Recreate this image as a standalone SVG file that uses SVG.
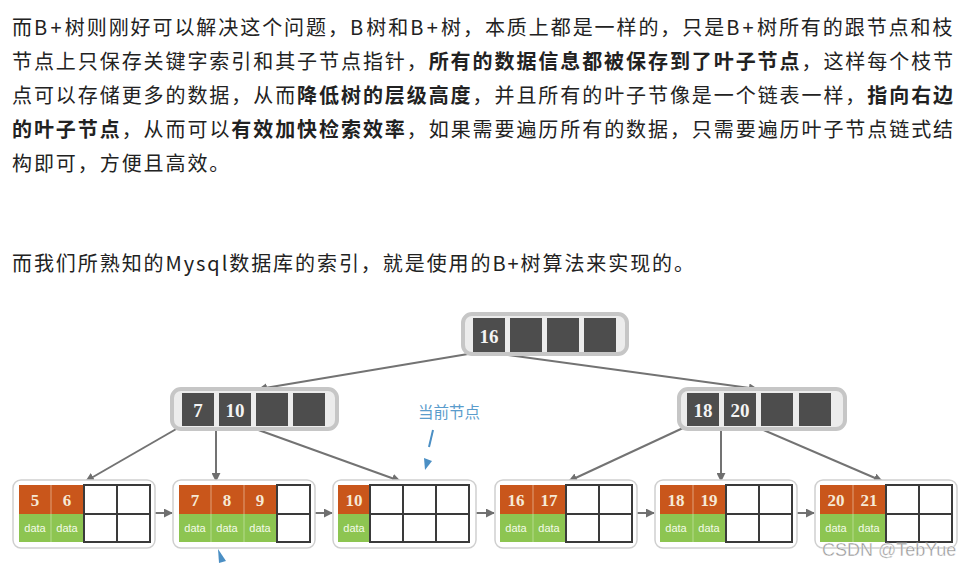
<svg xmlns="http://www.w3.org/2000/svg" width="973" height="567" viewBox="0 0 973 567">
<defs>
<marker id="ah" viewBox="0 0 10 10" refX="9" refY="5" markerWidth="9" markerHeight="9" markerUnits="userSpaceOnUse" orient="auto">
<path d="M0,0 L10,5 L0,10 Z" fill="#6f6f6f"/>
</marker>
<style>
.p{font-family:"Noto Sans CJK SC","Noto Sans",sans-serif;font-size:20px;fill:#222;letter-spacing:1.93px}
.b{font-weight:bold}
.l{letter-spacing:3.3px}
.inner{fill:#ececec;stroke:#c6c6c6;stroke-width:4}
.dk{fill:#4d4d4d}
.kn{font-family:"Liberation Serif","DejaVu Serif",serif;font-weight:bold;font-size:19px;fill:#f4f4f4;text-anchor:middle}
.leaf{fill:#fff;stroke:#cfcfcf;stroke-width:1.5}
.or{fill:#c9561b}
.gr{fill:#8dc551}
.sep{stroke:#e0a07a;stroke-width:1}
.sepg{stroke:#b5db8e;stroke-width:1}
.wc{fill:#fff;stroke:#3a3a3a;stroke-width:2}
.lk{font-family:"Liberation Serif","DejaVu Serif",serif;font-weight:bold;font-size:17px;fill:#f6e9d6;text-anchor:middle}
.dt{font-family:"Liberation Sans Narrow","Liberation Sans",sans-serif;font-size:11px;fill:#f4fbe9;text-anchor:middle}
.cn{stroke:#737373;stroke-width:2;fill:none;marker-end:url(#ah)}
.blue{fill:#4b8fc4}
</style>
</defs>
<rect width="973" height="567" fill="#fff"/>

<g id="paragraph">
<text class="p" x="12" y="35">而<tspan class="l">B+</tspan>树则刚好可以解决这个问题，<tspan class="l">B</tspan>树和<tspan class="l">B+</tspan>树，本质上都是一样的，只是<tspan class="l">B+</tspan>树所有的跟节点和枝</text>
<text class="p" x="12" y="69">节点上只保存关键字索引和其子节点指针，<tspan class="b">所有的数据信息都被保存到了叶子节点</tspan>，这样每个枝节</text>
<text class="p" x="12" y="103">点可以存储更多的数据，从而<tspan class="b">降低树的层级高度</tspan>，并且所有的叶子节像是一个链表一样，<tspan class="b">指向右边</tspan></text>
<text class="p" x="12" y="137"><tspan class="b">的叶子节点</tspan>，从而可以<tspan class="b">有效加快检索效率</tspan>，如果需要遍历所有的数据，只需要遍历叶子节点链式结</text>
<text class="p" x="12" y="171">构即可，方便且高效。</text>
<text class="p" x="12" y="271">而我们所熟知的Mysql数据库的索引，就是使用的B+树算法来实现的。</text>
</g>

<g id="connectors">
<line class="cn" x1="468" y1="354" x2="259" y2="389"/>
<line class="cn" x1="508" y1="355" x2="757" y2="389"/>
<line class="cn" x1="178" y1="428" x2="86" y2="481"/>
<line class="cn" x1="216" y1="428" x2="216" y2="481"/>
<line class="cn" x1="253" y1="428" x2="400" y2="481"/>
<line class="cn" x1="683" y1="428" x2="569" y2="481"/>
<line class="cn" x1="721" y1="428" x2="721" y2="481"/>
<line class="cn" x1="759" y1="428" x2="882" y2="481"/>
<line class="cn" x1="155" y1="513" x2="172" y2="513"/>
<line class="cn" x1="315" y1="513" x2="332" y2="513"/>
<line class="cn" x1="476" y1="513" x2="494" y2="513"/>
<line class="cn" x1="637" y1="513" x2="654" y2="513"/>
<line class="cn" x1="797" y1="513" x2="814" y2="513"/>
</g>

<g id="root">
<rect class="inner" x="463" y="314" width="164" height="40" rx="9"/>
<rect class="dk" x="473" y="318" width="32" height="34"/>
<rect class="dk" x="510" y="318" width="32" height="34"/>
<rect class="dk" x="547" y="318" width="32" height="34"/>
<rect class="dk" x="584" y="318" width="32" height="34"/>
<text class="kn" x="489" y="343">16</text>
</g>

<g id="branch-left">
<rect class="inner" x="172" y="389" width="165" height="40" rx="9"/>
<rect class="dk" x="182" y="393" width="32" height="33"/>
<rect class="dk" x="219" y="393" width="32" height="33"/>
<rect class="dk" x="256" y="393" width="32" height="33"/>
<rect class="dk" x="293" y="393" width="32" height="33"/>
<text class="kn" x="198" y="417">7</text>
<text class="kn" x="235" y="417">10</text>
</g>

<g id="branch-right">
<rect class="inner" x="679" y="389" width="166" height="40" rx="9"/>
<rect class="dk" x="687" y="393" width="32" height="33"/>
<rect class="dk" x="724" y="393" width="32" height="33"/>
<rect class="dk" x="761" y="393" width="32" height="33"/>
<rect class="dk" x="799" y="393" width="32" height="33"/>
<text class="kn" x="703" y="417">18</text>
<text class="kn" x="740" y="417">20</text>
</g>

<g id="leaf-1">
<rect class="leaf" x="13" y="480" width="142" height="68" rx="8"/>
<rect class="or" x="19" y="485" width="65" height="29"/>
<rect class="gr" x="19" y="514" width="65" height="28"/>
<line class="sep" x1="51" y1="485" x2="51" y2="514"/><line class="sepg" x1="51" y1="514" x2="51" y2="542"/>
<rect class="wc" x="84" y="485" width="33" height="29"/><rect class="wc" x="117" y="485" width="33" height="29"/>
<rect class="wc" x="84" y="514" width="33" height="28"/><rect class="wc" x="117" y="514" width="33" height="28"/>
<text class="lk" x="35" y="506">5</text><text class="lk" x="67" y="506">6</text>
<text class="dt" x="35" y="532">data</text><text class="dt" x="67" y="532">data</text>
</g>

<g id="leaf-2">
<rect class="leaf" x="173" y="480" width="142" height="68" rx="8"/>
<rect class="or" x="179" y="485" width="98" height="29"/>
<rect class="gr" x="179" y="514" width="98" height="28"/>
<line class="sep" x1="211" y1="485" x2="211" y2="514"/><line class="sep" x1="244" y1="485" x2="244" y2="514"/>
<line class="sepg" x1="211" y1="514" x2="211" y2="542"/><line class="sepg" x1="244" y1="514" x2="244" y2="542"/>
<rect class="wc" x="277" y="485" width="33" height="29"/>
<rect class="wc" x="277" y="514" width="33" height="28"/>
<text class="lk" x="195" y="506">7</text><text class="lk" x="227" y="506">8</text><text class="lk" x="260" y="506">9</text>
<text class="dt" x="195" y="532">data</text><text class="dt" x="227" y="532">data</text><text class="dt" x="260" y="532">data</text>
</g>

<g id="leaf-3">
<rect class="leaf" x="333" y="480" width="143" height="68" rx="8"/>
<rect class="or" x="338" y="485" width="32" height="29"/>
<rect class="gr" x="338" y="514" width="32" height="28"/>
<rect class="wc" x="370" y="485" width="33" height="29"/><rect class="wc" x="403" y="485" width="33" height="29"/><rect class="wc" x="436" y="485" width="33" height="29"/>
<rect class="wc" x="370" y="514" width="33" height="28"/><rect class="wc" x="403" y="514" width="33" height="28"/><rect class="wc" x="436" y="514" width="33" height="28"/>
<text class="lk" x="354" y="506">10</text>
<text class="dt" x="354" y="532">data</text>
</g>

<g id="leaf-4">
<rect class="leaf" x="495" y="480" width="142" height="68" rx="8"/>
<rect class="or" x="500" y="485" width="66" height="29"/>
<rect class="gr" x="500" y="514" width="66" height="28"/>
<line class="sep" x1="533" y1="485" x2="533" y2="514"/><line class="sepg" x1="533" y1="514" x2="533" y2="542"/>
<rect class="wc" x="566" y="485" width="33" height="29"/><rect class="wc" x="599" y="485" width="33" height="29"/>
<rect class="wc" x="566" y="514" width="33" height="28"/><rect class="wc" x="599" y="514" width="33" height="28"/>
<text class="lk" x="516" y="506">16</text><text class="lk" x="549" y="506">17</text>
<text class="dt" x="516" y="532">data</text><text class="dt" x="549" y="532">data</text>
</g>

<g id="leaf-5">
<rect class="leaf" x="655" y="480" width="142" height="68" rx="8"/>
<rect class="or" x="660" y="485" width="66" height="29"/>
<rect class="gr" x="660" y="514" width="66" height="28"/>
<line class="sep" x1="693" y1="485" x2="693" y2="514"/><line class="sepg" x1="693" y1="514" x2="693" y2="542"/>
<rect class="wc" x="726" y="485" width="33" height="29"/><rect class="wc" x="759" y="485" width="33" height="29"/>
<rect class="wc" x="726" y="514" width="33" height="28"/><rect class="wc" x="759" y="514" width="33" height="28"/>
<text class="lk" x="676" y="506">18</text><text class="lk" x="709" y="506">19</text>
<text class="dt" x="676" y="532">data</text><text class="dt" x="709" y="532">data</text>
</g>

<g id="leaf-6">
<rect class="leaf" x="815" y="480" width="142" height="68" rx="8"/>
<rect class="or" x="820" y="485" width="66" height="29"/>
<rect class="gr" x="820" y="514" width="66" height="28"/>
<line class="sep" x1="853" y1="485" x2="853" y2="514"/><line class="sepg" x1="853" y1="514" x2="853" y2="542"/>
<rect class="wc" x="886" y="485" width="33" height="29"/><rect class="wc" x="919" y="485" width="33" height="29"/>
<rect class="wc" x="886" y="514" width="33" height="28"/><rect class="wc" x="919" y="514" width="33" height="28"/>
<text class="lk" x="836" y="506">20</text><text class="lk" x="869" y="506">21</text>
<text class="dt" x="836" y="532">data</text><text class="dt" x="869" y="532">data</text>
</g>

<g id="current-node-label">
<text x="418" y="418" font-family="Noto Sans CJK SC, sans-serif" font-size="15.5" fill="#5a9ccc">当前节点</text>
<line x1="433" y1="430" x2="429" y2="447" stroke="#4b8fc4" stroke-width="2"/>
<polygon class="blue" points="424,458 432,461 425,470"/>
<polygon class="blue" points="218,549 226,561 219,563"/>
</g>

<text x="822" y="556" font-family="Liberation Sans, Arial, sans-serif" font-size="18" fill="#8a8a8a" stroke="#ffffff" stroke-width="0.4" opacity="0.9">CSDN @TebYue</text>
</svg>
